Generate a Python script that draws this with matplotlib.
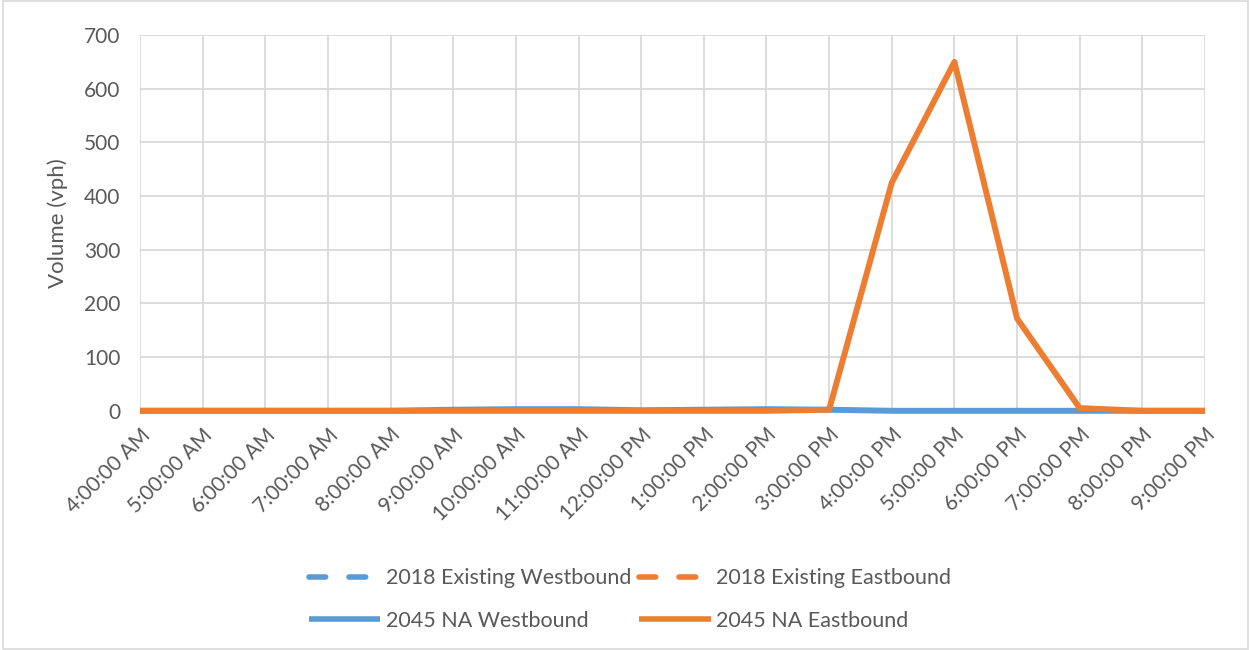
import matplotlib
matplotlib.use("Agg")
import matplotlib.pyplot as plt
from matplotlib.patches import Rectangle

plt.rcParams['font.family'] = ['Lato', 'DejaVu Sans']

times = ["4:00:00 AM", "5:00:00 AM", "6:00:00 AM", "7:00:00 AM", "8:00:00 AM",
         "9:00:00 AM", "10:00:00 AM", "11:00:00 AM", "12:00:00 PM", "1:00:00 PM",
         "2:00:00 PM", "3:00:00 PM", "4:00:00 PM", "5:00:00 PM", "6:00:00 PM",
         "7:00:00 PM", "8:00:00 PM", "9:00:00 PM"]

# 2018 counts are not available for this segment (legend entries only)
nan = float("nan")
wb_2018 = [nan] * len(times)
eb_2018 = [nan] * len(times)
wb_2045 = [0, 0, 0, 0, 0, 2, 3, 3, 1, 2, 3, 2, 0, 0, 0, 0, 0, 0]
eb_2045 = [0, 0, 0, 0, 0, 0, 0, 0, 0, 0, 0, 2, 425, 650, 172, 5, 0, 0]

BLUE = "#5B9BD5"
ORANGE = "#ED7D31"
GRID = "#D9D9D9"
TEXT = "#595959"

fig = plt.figure(figsize=(12.5, 6.5), dpi=100)
ax = fig.add_axes([0.112, 0.368, 0.852, 0.578])

x = list(range(len(times)))
lw = 4.3
dash = (0, (3.0, 4.2))
h1, = ax.plot(x, wb_2018, color=BLUE, lw=lw, ls=dash, dash_capstyle='round',
              clip_on=False, label="2018 Existing Westbound")
h2, = ax.plot(x, eb_2018, color=ORANGE, lw=lw, ls=dash, dash_capstyle='round',
              clip_on=False, label="2018 Existing Eastbound")
h3, = ax.plot(x, wb_2045, color=BLUE, lw=lw, solid_capstyle='butt',
              solid_joinstyle='round', clip_on=False, label="2045 NA Westbound")
h4, = ax.plot(x, eb_2045, color=ORANGE, lw=lw, solid_capstyle='butt',
              solid_joinstyle='round', clip_on=False, label="2045 NA Eastbound")

ax.set_xlim(0, len(times) - 1)
ax.set_ylim(0, 700)
ax.set_yticks(range(0, 701, 100))
ax.set_xticks(x)
ax.set_xticklabels(times, rotation=45, ha='right', va='top', rotation_mode='anchor')
ax.tick_params(axis='both', length=0, labelsize=15, colors=TEXT)
ax.tick_params(axis='x', pad=10)
ax.tick_params(axis='y', pad=14)

ax.grid(True, color=GRID, lw=1.3)
ax.set_axisbelow(True)
for s in ax.spines.values():
    s.set_visible(False)

ax.set_ylabel("Volume (vph)", fontsize=16, color=TEXT, labelpad=12)

# two columns, filled row by row
handles = [h1, h3, h2, h4]
leg = fig.legend(handles, [h.get_label() for h in handles], loc='center',
                 bbox_to_anchor=(0.504, 0.0775), ncol=2, frameon=False,
                 fontsize=15.5, handlelength=3.3, handletextpad=0.25, columnspacing=0.4,
                 labelspacing=1.05)
for line in leg.get_lines():
    line.set_linewidth(4.0)
for t in leg.get_texts():
    t.set_color(TEXT)

fig.patches.append(Rectangle((0.002, 0.002), 0.996, 0.996, transform=fig.transFigure,
                             fill=False, edgecolor=GRID, lw=1.2))

fig.savefig("out.png", dpi=100, facecolor='white')
